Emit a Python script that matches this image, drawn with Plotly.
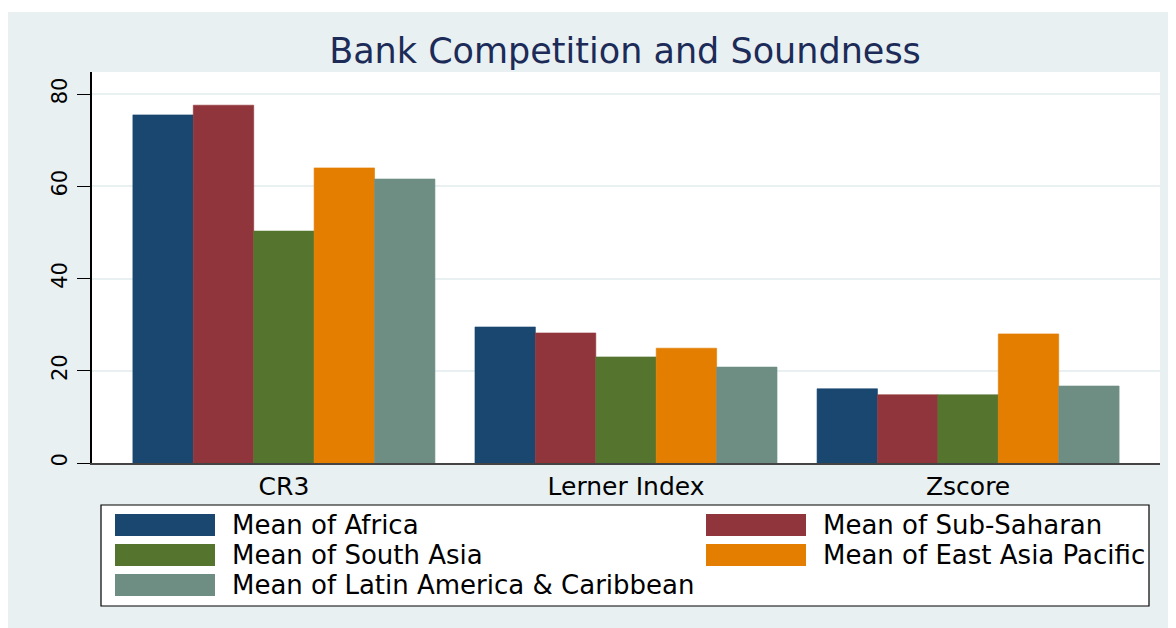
import plotly.graph_objects as go

categories = ["CR3", "Lerner Index", "Zscore"]
series_names = ["Mean of Africa", "Mean of Sub-Saharan", "Mean of South Asia",
                "Mean of East Asia Pacific", "Mean of Latin America & Caribbean"]
africa = [75.5, 29.5, 16.1]
sub_saharan = [77.6, 28.2, 14.8]
south_asia = [50.3, 23.0, 14.8]
east_asia_pacific = [64.0, 24.9, 28.0]
latin_america = [61.6, 20.8, 16.7]
y_ticks = [0, 20, 40, 60, 80]

series_values = [africa, sub_saharan, south_asia, east_asia_pacific, latin_america]
colors = ["#1A476F", "#90353B", "#55752F", "#E37E00", "#6E8E84"]
BG = "#E8F0F2"
FONT = "DejaVu Sans, Liberation Sans, Arial, sans-serif"

fig = go.Figure()
xpos = list(range(len(categories)))
for name, vals, col in zip(series_names, series_values, colors):
    fig.add_trace(go.Bar(x=xpos, y=vals, name=name,
                         marker=dict(color=col, line=dict(width=0.6, color=col)),
                         showlegend=False))

# page renders the figure with an 8px body margin; work in window coords
OFF = 8
W, H = 1176, 628 - OFF
L, T = 92 - OFF, 72 - OFF
PR, PB = 1160 - OFF, 463 - OFF
R, B = W - PR, H - PB
pw, ph = PR - L, PB - T


def px(x):
    return (x - OFF - L) / pw


def py(y):
    return (PB - (y - OFF)) / ph


shapes = []
# white strip at the very top (page background above the graph region)
shapes.append(dict(type="rect", xref="paper", yref="paper", x0=px(0), x1=px(1200), y0=py(12), y1=py(0),
                   fillcolor="white", line=dict(width=0), layer="below"))
# legend box
shapes.append(dict(type="rect", xref="paper", yref="paper", x0=px(101), x1=px(1149), y0=py(606), y1=py(505),
                   fillcolor="white", line=dict(width=1.2, color="black"), layer="above"))
annotations = []
positions = [(115, 525), (706, 525), (115, 555), (706, 555), (115, 585)]
for (sx, sy), name, col in zip(positions, series_names, colors):
    shapes.append(dict(type="rect", xref="paper", yref="paper", x0=px(sx), x1=px(sx + 100),
                       y0=py(sy + 11), y1=py(sy - 11), fillcolor=col, line=dict(width=0), layer="above"))
    annotations.append(dict(text=name, xref="paper", yref="paper", x=px(sx + 115), y=py(sy),
                            xanchor="left", yanchor="middle", showarrow=False,
                            font=dict(family=FONT, size=26, color="black")))

fig.update_layout(
    width=W, height=H,
    margin=dict(l=L, r=R, t=T, b=B),
    paper_bgcolor=BG, plot_bgcolor="white",
    barmode="group", bargap=0.117, bargroupgap=0,
    title=dict(text="Bank Competition and Soundness", x=(625 - OFF) / W, xanchor="center",
               y=1 - (51 - OFF) / H, yanchor="middle",
               font=dict(family=FONT, size=35, color="#1C2B57")),
    xaxis=dict(tickmode="array", tickvals=xpos, ticktext=categories, range=[-0.561, 2.561],
               showgrid=False, zeroline=False, showline=True, linecolor="#444444", linewidth=1.5,
               ticks="", tickfont=dict(family=FONT, size=25, color="black"), ticklabelstandoff=0),
    yaxis=dict(range=[0, 84.8], tickvals=y_ticks, tickangle=-90, ticks="outside", ticklen=13,
               tickcolor="black", tickwidth=1.2, showline=True, linecolor="black", linewidth=1.5,
               gridcolor=BG, gridwidth=2, zeroline=False, ticklabelstandoff=2,
               tickfont=dict(family=FONT, size=21, color="black")),
    shapes=shapes, annotations=annotations,
)

fig.write_html("out.html",
               post_script="document.body.style.overflow='hidden';document.documentElement.style.overflow='hidden';")
